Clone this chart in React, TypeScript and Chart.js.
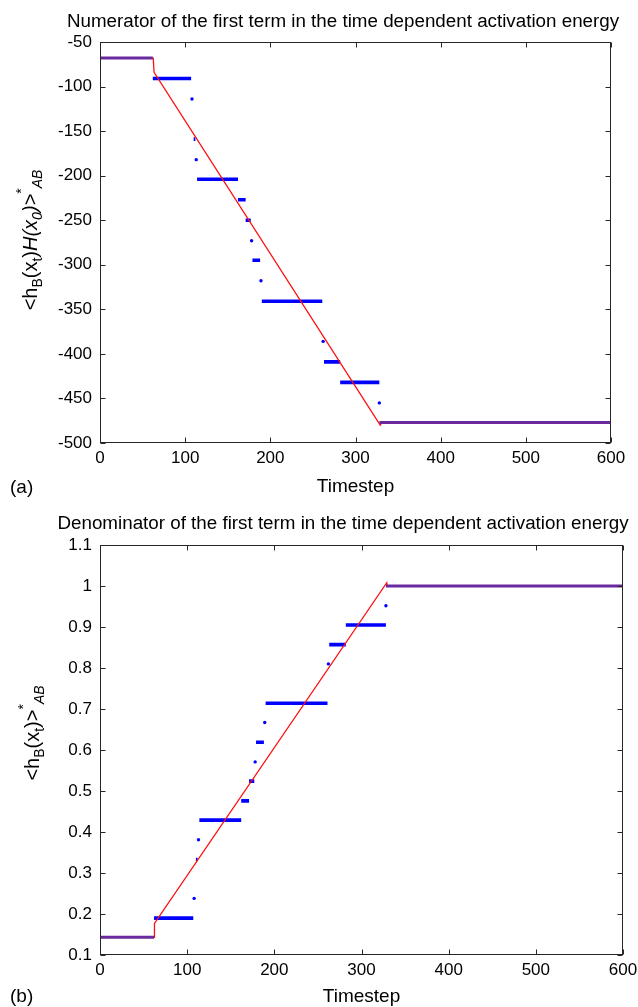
import React, { useEffect, useRef } from 'react';
import { Chart, registerables } from 'chart.js';

Chart.register(...registerables);

const FONT = "'Liberation Sans', Arial, Helvetica, sans-serif";

// axis ticks
const xTickValues = [0, 100, 200, 300, 400, 500, 600];
const yTickValuesA = [-500, -450, -400, -350, -300, -250, -200, -150, -100, -50];
const yTickValuesB = [0.1, 0.2, 0.3, 0.4, 0.5, 0.6, 0.7, 0.8, 0.9, 1, 1.1];

// blue step runs (first / last timestep of each run)
const segStart = [62, 110, 114, 162, 171, 179, 190, 263, 282];
const segEnd = [107, 112, 162, 171, 177, 188, 261, 282, 328];
const segLevelA = [-91, -159, -204, -227, -250, -295, -341, -409, -432];
const segLevelB = [0.19, 0.333, 0.429, 0.476, 0.524, 0.619, 0.714, 0.857, 0.905];

// isolated blue points
const dotX = [108, 113, 178, 189, 262, 328];
const dotLevelA = [-114, -182, -273, -318, -386, -455];
const dotLevelB = [0.238, 0.381, 0.571, 0.667, 0.81, 0.952];

// runs where the red line and the blue steps coincide (seen purple)
const flatStart = [0, 328];
const flatEnd = [62, 600];
const flatLevelA = [-68, -477];
const flatLevelB = [0.143, 1.0];

// red line
const redXA = [0, 62.5, 63.5, 329, 329.5, 600];
const redYA = [-68, -68, -84, -480, -477, -477];
const redXB = [0, 62, 62.5, 329, 329.5, 600];
const redYB = [0.143, 0.143, 0.177, 1.008, 1.0, 1.0];

const titleA = 'Numerator of the first term in the time dependent activation energy';
const titleB = 'Denominator of the first term in the time dependent activation energy';

type Run = { t: string; sub?: boolean; sup?: boolean; it?: boolean };
const yLabelA: Run[] = [
  { t: '<h' }, { t: 'B', sub: true }, { t: '(x' }, { t: 't', sub: true }, { t: ')' },
  { t: 'H(x', it: true }, { t: '0', sub: true, it: true }, { t: ')>', it: true },
  { t: '*', sup: true }, { t: 'AB', sub: true, it: true },
];
const yLabelB: Run[] = [
  { t: '<h' }, { t: 'B', sub: true }, { t: '(x' }, { t: 't', sub: true }, { t: ')>' },
  { t: '*', sup: true }, { t: 'AB', sub: true, it: true },
];

function runs(starts: number[], ends: number[], levels: number[]) {
  const pts: any[] = [];
  starts.forEach((s, i) => {
    pts.push({ x: s, y: levels[i] }, { x: ends[i], y: levels[i] }, { x: ends[i], y: null });
  });
  return pts;
}

const framePlugin = {
  id: 'matlabFrame',
  afterDatasetsDraw(chart: any) {
    const { ctx, chartArea: a, scales } = chart;
    ctx.save();
    ctx.strokeStyle = '#262626';
    ctx.lineWidth = 1;
    const tl = 5;
    const L = Math.round(a.left) + 0.5;
    const R = Math.round(a.right) - 0.5;
    const T = Math.round(a.top) + 0.5;
    const B = Math.round(a.bottom) - 0.5;
    ctx.beginPath();
    scales.x.ticks.forEach((t: any) => {
      const px = Math.round(scales.x.getPixelForValue(t.value)) + 0.5;
      ctx.moveTo(px, B); ctx.lineTo(px, B - tl);
      ctx.moveTo(px, T); ctx.lineTo(px, T + tl);
    });
    scales.y.ticks.forEach((t: any) => {
      const py = Math.round(scales.y.getPixelForValue(t.value)) + 0.5;
      ctx.moveTo(L, py); ctx.lineTo(L + tl, py);
      ctx.moveTo(R, py); ctx.lineTo(R - tl, py);
    });
    ctx.stroke();
    ctx.strokeRect(L, T, R - L, B - T);
    ctx.restore();
  },
  afterDraw(chart: any, _args: any, opts: any) {
    const { ctx } = chart;
    ctx.save();
    ctx.fillStyle = '#000';
    ctx.textBaseline = 'middle';
    ctx.textAlign = 'center';
    ctx.font = `${opts.titleSize}px ${FONT}`;
    ctx.fillText(opts.title, opts.titleX, opts.titleY);
    ctx.textAlign = 'left';
    ctx.font = `19px ${FONT}`;
    ctx.fillText(opts.panel, opts.panelX, opts.panelY);
    // rotated y label with sub/superscripts
    const main = 20, small = 14;
    const fontFor = (r: Run) => `${r.it ? 'italic ' : ''}${r.sub || r.sup ? small : main}px ${FONT}`;
    ctx.textBaseline = 'alphabetic';
    let total = 0;
    opts.yRuns.forEach((r: Run) => { ctx.font = fontFor(r); total += ctx.measureText(r.t).width; });
    ctx.translate(opts.yLabelX, opts.yLabelY);
    ctx.rotate(-Math.PI / 2);
    let u = -total / 2;
    opts.yRuns.forEach((r: Run) => {
      ctx.font = fontFor(r);
      const dv = r.sub ? 5 : r.sup ? -11 : 0;
      ctx.fillText(r.t, u, dv);
      u += ctx.measureText(r.t).width;
    });
    ctx.restore();
  },
};

function makeConfig(p: any) {
  const tickFont = { family: FONT, size: 17 };
  return {
    type: 'scatter',
    data: {
      datasets: [
        {
          data: runs(flatStart, flatEnd, p.flatLevel), showLine: true, spanGaps: false,
          borderColor: '#6a2a9e', borderWidth: 3, pointRadius: 0, order: 0,
        },
        {
          data: p.redX.map((x: number, i: number) => ({ x, y: p.redY[i] })), showLine: true,
          borderColor: '#ff1010', borderWidth: 1.3, pointRadius: 0, order: 1,
        },
        {
          data: runs(segStart, segEnd, p.segLevel), showLine: true, spanGaps: false,
          borderColor: '#0000ff', borderWidth: 3.6, borderCapStyle: 'butt', pointRadius: 0, order: 2,
        },
        {
          data: dotX.map((x, i) => ({ x, y: p.dotLevel[i] })), showLine: false,
          pointRadius: 1.7, pointBorderWidth: 0, pointBackgroundColor: '#0000ff', order: 3,
        },
      ],
    },
    options: {
      animation: false,
      responsive: false,
      events: [],
      layout: { padding: { top: p.top, right: p.right, left: 0, bottom: 0 } },
      plugins: {
        legend: { display: false },
        tooltip: { enabled: false },
        title: { display: false },
        matlabFrame: {
          title: p.title, titleX: p.titleX, titleY: p.titleY, titleSize: 18.8,
          panel: p.panel, panelX: 10, panelY: p.panelY,
          yRuns: p.yRuns, yLabelX: p.yLabelX, yLabelY: p.yLabelY,
        },
      },
      scales: {
        x: {
          type: 'linear', min: 0, max: 600,
          afterBuildTicks: (s: any) => { s.ticks = xTickValues.map((v) => ({ value: v })); },
          afterFit: (s: any) => { s.height = p.xAxisH; s.paddingLeft = 0; s.paddingRight = 0; },
          grid: { display: false, drawTicks: false },
          border: { display: false },
          ticks: { font: tickFont, color: '#000', padding: p.xTickPad, maxRotation: 0, autoSkip: false, callback: (v: any) => String(v) },
          title: { display: true, text: 'Timestep', font: { family: FONT, size: 19 }, color: '#000', padding: { top: 0, bottom: p.xTitlePad } },
        },
        y: {
          type: 'linear', min: p.yMin, max: p.yMax,
          afterBuildTicks: (s: any) => { s.ticks = p.yTicks.map((v: number) => ({ value: v })); },
          afterFit: (s: any) => { s.width = 100; s.paddingTop = 0; s.paddingBottom = 0; },
          grid: { display: false, drawTicks: false },
          border: { display: false },
          ticks: { font: tickFont, color: '#000', padding: 8, autoSkip: false, callback: (v: any) => String(v) },
        },
      },
    },
    plugins: [framePlugin],
  };
}

function Panel(props: { cfg: any; top: number; height: number }) {
  const ref = useRef<HTMLCanvasElement | null>(null);
  useEffect(() => {
    if (!ref.current) return;
    const chart = new Chart(ref.current, makeConfig(props.cfg) as any);
    return () => chart.destroy();
  }, []);
  return (
    <canvas
      ref={ref}
      width={638}
      height={props.height}
      style={{ position: 'absolute', left: 0, top: props.top, width: 638, height: props.height }}
    />
  );
}

const cfgA = {
  title: titleA, titleX: 343, titleY: 22, panel: '(a)', panelY: 488,
  yRuns: yLabelA, yLabelX: 37, yLabelY: 240,
  top: 42, right: 27, xAxisH: 62, xTickPad: 5, xTitlePad: 6.6,
  yMin: -500, yMax: -50, yTicks: yTickValuesA,
  segLevel: segLevelA, dotLevel: dotLevelA, flatLevel: flatLevelA, redX: redXA, redY: redYA,
};

const cfgB = {
  title: titleB, titleX: 343, titleY: 19, panel: '(b)', panelY: 492,
  yRuns: yLabelB, yLabelX: 39, yLabelY: 228,
  top: 40, right: 15, xAxisH: 52, xTickPad: 5.5, xTitlePad: -1.4,
  yMin: 0.1, yMax: 1.1, yTicks: yTickValuesB,
  segLevel: segLevelB, dotLevel: dotLevelB, flatLevel: flatLevelB, redX: redXB, redY: redYB,
};

export default function App() {
  return (
    <div style={{ position: 'fixed', left: 0, top: 0, width: 638, height: 1007, background: '#fff' }}>
      <Panel cfg={cfgA} top={0} height={505} />
      <Panel cfg={cfgB} top={505} height={502} />
    </div>
  );
}
